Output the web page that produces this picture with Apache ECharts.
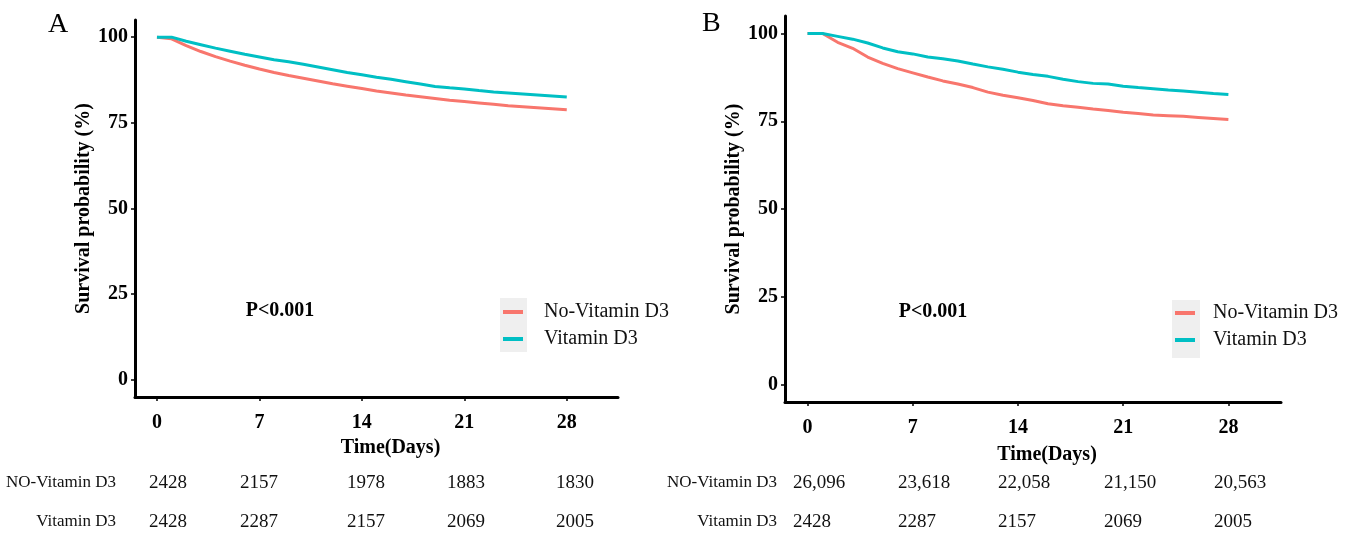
<!DOCTYPE html>
<html lang="en">
<head>
  <meta charset="UTF-8">
  <title>Kaplan-Meier survival, Vitamin D3</title>
  <script src="https://cdn.jsdelivr.net/npm/echarts@6/dist/echarts.min.js"></script>
  <style>
    html, body { margin: 0; padding: 0; background: #fff; }
  </style>
</head>
<body>
<div id="main" style="width: 1354px;height:535px;"></div>
<script>
  // days on the x axis
  var days = [0, 1, 2, 3, 4, 5, 6, 7, 8, 9, 10, 11, 12, 13, 14, 15, 16, 17, 18, 19, 20, 21, 22, 23, 24, 25, 26, 27, 28];

  // panel A curves (% survival)
  var aNoVit = [100, 99.5, 97.5, 95.8, 94.3, 93.0, 91.8, 90.7, 89.7, 88.8, 88.0, 87.2, 86.4, 85.7, 85.0, 84.3, 83.7, 83.1, 82.6, 82.1, 81.6, 81.2, 80.8, 80.4, 80.0, 79.7, 79.4, 79.1, 78.8];
  var aVit   = [100, 100, 98.8, 97.8, 96.8, 95.9, 95.0, 94.2, 93.4, 92.8, 92.1, 91.3, 90.5, 89.7, 89.0, 88.3, 87.7, 87.0, 86.3, 85.6, 85.2, 84.9, 84.4, 84.0, 83.7, 83.4, 83.1, 82.8, 82.5];

  // panel B curves (% survival)
  var bNoVit = [100, 100, 97.5, 95.8, 93.3, 91.5, 90.0, 88.8, 87.6, 86.5, 85.6, 84.6, 83.3, 82.4, 81.7, 80.9, 80.0, 79.4, 79.0, 78.5, 78.1, 77.6, 77.2, 76.8, 76.6, 76.4, 76.1, 75.8, 75.5];
  var bVit   = [100, 100, 99.2, 98.4, 97.3, 95.9, 94.8, 94.2, 93.3, 92.8, 92.2, 91.3, 90.5, 89.8, 89.0, 88.3, 87.8, 87.0, 86.3, 85.8, 85.6, 85.0, 84.6, 84.3, 83.9, 83.6, 83.3, 82.9, 82.6];

  // ticks
  var xTicks = [0, 7, 14, 21, 28];
  var yTicks = [0, 25, 50, 75, 100];

  // numbers at risk
  var groups = ['NO-Vitamin D3', 'Vitamin D3'];
  var aRiskNo  = ['2428', '2157', '1978', '1883', '1830'];
  var aRiskVit = ['2428', '2287', '2157', '2069', '2005'];
  var bRiskNo  = ['26,096', '23,618', '22,058', '21,150', '20,563'];
  var bRiskVit = ['2428', '2287', '2157', '2069', '2005'];

  var seriesNames = ['No-Vitamin D3', 'Vitamin D3'];
  var colors = ['#F8766D', '#00BFC4'];
  var serif = '"Liberation Serif", "Times New Roman", serif';

  function pairs(ys) {
    return days.map(function (d, i) { return [d, ys[i]]; });
  }

  function xAxisFor(idx, gap) {
    return {
      type: 'value', gridIndex: idx, min: -1.5, max: 31.5,
      axisLine: { show: true, onZero: false, lineStyle: { color: '#000', width: 3 } },
      axisTick: { show: true, customValues: xTicks, length: 4, lineStyle: { color: '#000', width: 1.5 } },
      axisLabel: { customValues: xTicks, margin: 16, color: '#000', fontSize: 20, fontWeight: 'bold', fontFamily: serif },
      splitLine: { show: false },
      name: 'Time(Days)', nameLocation: 'middle', nameGap: gap,
      nameTextStyle: { color: '#000', fontSize: 20, fontWeight: 'bold', fontFamily: serif, padding: [0, 0, 0, 28] }
    };
  }

  function yAxisFor(idx) {
    return {
      type: 'value', gridIndex: idx, min: -5, max: 105,
      axisLine: { show: true, onZero: false, lineStyle: { color: '#000', width: 3 } },
      axisTick: { show: true, customValues: yTicks, length: 4, lineStyle: { color: '#000', width: 1.5 } },
      axisLabel: { customValues: yTicks, margin: 7, color: '#000', fontSize: 20, fontWeight: 'bold', fontFamily: serif },
      splitLine: { show: false },
      name: 'Survival probability (%)', nameLocation: 'middle', nameGap: 40,
      nameTextStyle: { color: '#000', fontSize: 20, fontWeight: 'bold', fontFamily: serif }
    };
  }

  function lineSeries(name, ys, idx, c) {
    return {
      name: name, type: 'line', xAxisIndex: idx, yAxisIndex: idx,
      data: pairs(ys), showSymbol: false, symbol: 'none',
      color: c, lineStyle: { color: c, width: 3 }, z: 3
    };
  }

  function legendFor(left, top, pad) {
    return {
      orient: 'vertical', left: left, top: top, padding: 0,
      data: seriesNames, icon: 'rect', itemWidth: 20, itemHeight: 4, itemGap: 7,
      textStyle: { fontSize: 20, lineHeight: 20, color: '#111', fontFamily: serif, padding: [0, 0, 0, pad] }
    };
  }

  // table text, positions kept apart from the data
  var colA = [149, 240, 347, 447, 556];
  var colB = [793, 898, 998, 1104, 1214];
  var rowY = [483, 522];

  function tableTexts(labelRight, cols, rows) {
    var out = [];
    groups.forEach(function (g, r) {
      out.push({ type: 'text', x: labelRight, y: rowY[r],
        style: { text: g, align: 'right', verticalAlign: 'middle', fontSize: 17, fontFamily: serif, fill: '#111' } });
      rows[r].forEach(function (v, c) {
        out.push({ type: 'text', x: cols[c], y: rowY[r],
          style: { text: v, align: 'left', verticalAlign: 'middle', fontSize: 19, fontFamily: serif, fill: '#111' } });
      });
    });
    return out;
  }

  var graphics = [
    { type: 'text', x: 48, y: 25, style: { text: 'A', fontSize: 28, fontFamily: serif, fill: '#000', verticalAlign: 'middle' } },
    { type: 'text', x: 702, y: 24, style: { text: 'B', fontSize: 28, fontFamily: serif, fill: '#000', verticalAlign: 'middle' } },
    { type: 'text', x: 280, y: 311, style: { text: 'P<0.001', fontSize: 20, fontWeight: 'bold', fontFamily: serif, fill: '#000', align: 'center', verticalAlign: 'middle' } },
    { type: 'text', x: 933, y: 312, style: { text: 'P<0.001', fontSize: 20, fontWeight: 'bold', fontFamily: serif, fill: '#000', align: 'center', verticalAlign: 'middle' } },
    { type: 'rect', shape: { x: 500, y: 298, width: 27, height: 54 }, style: { fill: '#efefef' }, z: -1 },
    { type: 'rect', shape: { x: 1172, y: 300, width: 28, height: 58 }, style: { fill: '#efefef' }, z: -1 }
  ].concat(tableTexts(116, colA, [aRiskNo, aRiskVit]))
   .concat(tableTexts(777, colB, [bRiskNo, bRiskVit]));

  var myChart = echarts.init(document.getElementById('main'));
  myChart.setOption({
    animation: false,
    backgroundColor: '#fff',
    grid: [
      { left: 135, top: 20, width: 483, height: 377, outerBoundsMode: 'none' },
      { left: 785, top: 16, width: 496, height: 386, outerBoundsMode: 'none' }
    ],
    xAxis: [xAxisFor(0, 41), xAxisFor(1, 43)],
    yAxis: [yAxisFor(0), yAxisFor(1)],
    legend: [legendFor(503, 302, 16), legendFor(1175, 303, 13)],
    series: [
      lineSeries(seriesNames[0], aNoVit, 0, colors[0]),
      lineSeries(seriesNames[1], aVit, 0, colors[1]),
      lineSeries(seriesNames[0], bNoVit, 1, colors[0]),
      lineSeries(seriesNames[1], bVit, 1, colors[1])
    ],
    graphic: graphics
  });
</script>
</body>
</html>
